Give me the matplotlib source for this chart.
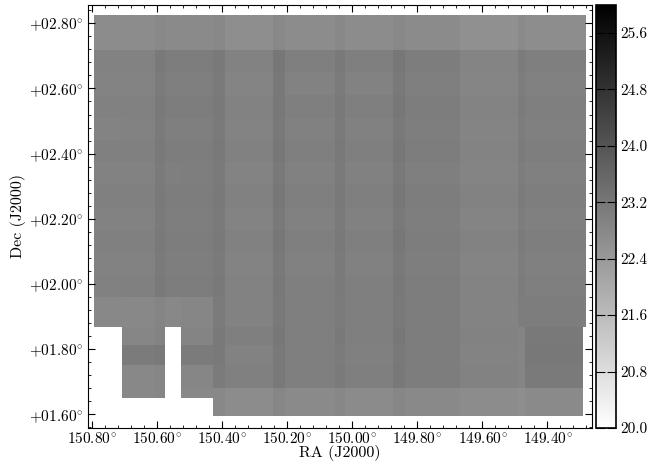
import numpy as np
import matplotlib
matplotlib.use("Agg")
import matplotlib.pyplot as plt
from matplotlib.ticker import MultipleLocator, FuncFormatter

plt.rcParams["font.family"] = "serif"
plt.rcParams["font.serif"] = ["cmr10"]
plt.rcParams["mathtext.fontset"] = "cm"
plt.rcParams["axes.unicode_minus"] = False

# borders of the strips of the mosaic (degrees)
RA_EDGES = [150.794, 150.708, 150.606, 150.575, 150.526, 150.428, 150.391,
            150.243, 150.206, 150.052, 150.022, 149.874, 149.837, 149.668,
            149.492, 149.468, 149.292, 149.280]
DEC_EDGES = [2.8255, 2.718, 2.651, 2.580, 2.510, 2.442, 2.375, 2.304, 2.233,
             2.166, 2.100, 2.029, 1.961, 1.869, 1.814, 1.752, 1.681, 1.650,
             1.595]

nan = np.nan
# depth in each cell (rows go from north to south, columns from east to west)
DEPTH = [
    [22.70, 22.70, 22.80, 22.75, 22.75, 22.80, 22.65, 22.80, 22.70, 22.80, 22.70, 22.80, 22.72, 22.62, 22.75, 22.68, 22.68],
    [22.95, 22.95, 23.15, 23.05, 23.05, 23.15, 22.95, 23.20, 23.00, 23.15, 23.00, 23.20, 23.05, 22.90, 23.10, 23.00, 23.00],
    [22.92, 22.92, 23.10, 23.00, 23.02, 23.12, 22.90, 23.15, 22.95, 23.10, 22.95, 23.15, 23.02, 22.88, 23.05, 22.97, 22.97],
    [22.97, 22.97, 23.15, 23.05, 23.05, 23.15, 22.95, 23.18, 23.00, 23.15, 23.00, 23.20, 23.06, 22.92, 23.10, 23.02, 23.02],
    [22.92, 22.94, 23.12, 23.02, 23.02, 23.12, 22.92, 23.15, 22.96, 23.12, 22.97, 23.16, 23.03, 22.89, 23.06, 22.98, 22.98],
    [22.98, 22.98, 23.16, 23.06, 23.06, 23.16, 22.96, 23.20, 23.01, 23.15, 23.01, 23.20, 23.06, 22.92, 23.10, 23.03, 23.03],
    [22.93, 22.95, 23.12, 23.02, 23.03, 23.12, 22.92, 23.16, 22.97, 23.12, 22.97, 23.16, 23.02, 22.90, 23.06, 22.99, 22.99],
    [22.98, 22.98, 23.16, 23.06, 23.06, 23.16, 22.96, 23.20, 23.01, 23.15, 23.01, 23.20, 23.06, 22.93, 23.10, 23.03, 23.03],
    [22.94, 22.95, 23.12, 23.03, 23.03, 23.12, 22.92, 23.16, 22.97, 23.12, 22.97, 23.16, 23.03, 22.90, 23.06, 22.99, 22.99],
    [22.98, 22.98, 23.16, 23.06, 23.06, 23.16, 22.96, 23.20, 23.01, 23.15, 23.01, 23.20, 23.06, 22.93, 23.10, 23.03, 23.03],
    [22.94, 22.95, 23.12, 23.03, 23.03, 23.12, 22.92, 23.16, 22.97, 23.12, 22.97, 23.16, 23.03, 22.90, 23.06, 22.99, 22.99],
    [22.97, 22.98, 23.15, 23.05, 23.05, 23.15, 22.95, 23.18, 23.00, 23.14, 23.00, 23.18, 23.05, 22.92, 23.08, 23.02, 23.02],
    [22.80, 22.80, 22.90, 22.80, 22.85, 23.10, 22.95, 23.15, 23.00, 23.10, 23.00, 23.15, 23.05, 22.92, 23.05, 23.06, 23.03],
    [nan, 22.85, 22.95, nan, 22.90, 23.15, 23.00, 23.20, 23.00, 23.15, 23.00, 23.20, 23.05, 22.95, 22.90, 23.16, nan],
    [nan, 23.10, 23.15, nan, 23.10, 23.15, 22.95, 23.15, 23.00, 23.10, 22.98, 23.15, 23.05, 22.92, 22.88, 23.18, nan],
    [nan, 22.80, 22.85, nan, 22.85, 23.10, 22.98, 23.15, 23.00, 23.12, 23.00, 23.18, 23.05, 22.95, 22.88, 23.14, nan],
    [nan, 22.80, 22.85, nan, 22.80, 22.80, 22.70, 22.85, 22.75, 22.82, 22.72, 22.85, 22.78, 22.70, 22.65, 22.75, nan],
    [nan, nan, nan, nan, nan, 22.80, 22.70, 22.85, 22.75, 22.82, 22.72, 22.85, 22.78, 22.70, 22.65, 22.75, nan],
]

CBAR_TICKS = [20.0, 20.8, 21.6, 22.4, 23.2, 24.0, 24.8, 25.6]


def main():
    fig = plt.figure(figsize=(6.5, 4.65), dpi=100)
    ax = fig.add_axes([0.1354, 0.0796, 0.7754, 0.9103])
    cax = fig.add_axes([0.9165, 0.0796, 0.0308, 0.9103])

    depth = np.ma.masked_invalid(np.array(DEPTH))
    mesh = ax.pcolormesh(RA_EDGES, DEC_EDGES, depth, cmap="gray_r",
                         vmin=20.0, vmax=26.0, shading="flat")

    ax.set_xlim(150.813, 149.263)  # RA cresce para a esquerda
    ax.set_ylim(1.558, 2.857)

    ax.xaxis.set_major_locator(MultipleLocator(0.2))
    ax.xaxis.set_minor_locator(MultipleLocator(0.04))
    ax.yaxis.set_major_locator(MultipleLocator(0.2))
    ax.yaxis.set_minor_locator(MultipleLocator(0.04))
    ax.xaxis.set_major_formatter(FuncFormatter(lambda v, p: r"$%.2f^{\circ}$" % v))
    ax.yaxis.set_major_formatter(FuncFormatter(lambda v, p: r"$%+06.2f^{\circ}$" % v))

    ax.tick_params(which="both", direction="in", top=True, right=True, labelsize=11)
    ax.tick_params(which="major", length=5, width=0.8)
    ax.tick_params(which="minor", length=2.5, width=0.6)
    ax.tick_params(axis="x", which="major", pad=2.5)

    ax.set_xlabel("RA (J2000)", fontsize=11.5, labelpad=-1)
    ax.set_ylabel("Dec (J2000)", fontsize=11.5, labelpad=2)

    cbar = fig.colorbar(mesh, cax=cax, ticks=CBAR_TICKS)
    cbar.ax.minorticks_off()
    cbar.ax.yaxis.set_major_formatter(FuncFormatter(lambda v, p: "%.1f" % v))
    cbar.ax.tick_params(direction="in", left=True, right=True, length=6.5,
                        width=0.8, labelsize=11, pad=3)
    cbar.outline.set_linewidth(1.2)

    fig.savefig("out.png", dpi=100)


main()
